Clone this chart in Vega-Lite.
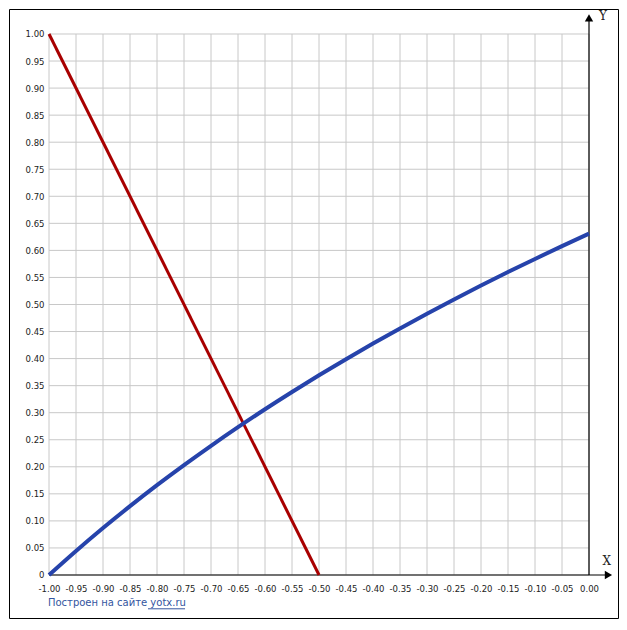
{
  "$schema": "https://vega.github.io/schema/vega-lite/v6.json",
  "width": 609,
  "height": 609,
  "padding": {"left": 9, "top": 9, "right": 9, "bottom": 12},
  "autosize": {"type": "none"},
  "background": "white",
  "config": {
    "view": {"stroke": "black", "strokeWidth": 1},
    "axis": {"labelFont": "DejaVu Sans", "labelFontSize": 8.5, "labelColor": "#222222", "domain": false, "ticks": false, "grid": false, "title": null, "labelOverlap": false, "labelFlush": false, "labelBound": false}
  },
  "datasets": {
    "gx": [{"v": -1.0}, {"v": -0.95}, {"v": -0.9}, {"v": -0.85}, {"v": -0.8}, {"v": -0.75}, {"v": -0.7}, {"v": -0.65}, {"v": -0.6}, {"v": -0.55}, {"v": -0.5}, {"v": -0.45}, {"v": -0.4}, {"v": -0.35}, {"v": -0.3}, {"v": -0.25}, {"v": -0.2}, {"v": -0.15}, {"v": -0.1}, {"v": -0.05}, {"v": 0.0}],
    "gy": [{"v": 0.0}, {"v": 0.05}, {"v": 0.1}, {"v": 0.15}, {"v": 0.2}, {"v": 0.25}, {"v": 0.3}, {"v": 0.35}, {"v": 0.4}, {"v": 0.45}, {"v": 0.5}, {"v": 0.55}, {"v": 0.6}, {"v": 0.65}, {"v": 0.7}, {"v": 0.75}, {"v": 0.8}, {"v": 0.85}, {"v": 0.9}, {"v": 0.95}, {"v": 1.0}],
    "red": [
      {"x": -1.0, "y": 1.0},
      {"x": -0.5, "y": 0.0}
    ],
    "blue": [
      {"x": -1.0, "y": 0.0},
      {"x": -0.95, "y": 0.0444},
      {"x": -0.9, "y": 0.0868},
      {"x": -0.85, "y": 0.1272},
      {"x": -0.8, "y": 0.166},
      {"x": -0.75, "y": 0.2031},
      {"x": -0.7, "y": 0.2388},
      {"x": -0.65, "y": 0.2732},
      {"x": -0.6, "y": 0.3063},
      {"x": -0.55, "y": 0.3382},
      {"x": -0.5, "y": 0.3691},
      {"x": -0.45, "y": 0.3989},
      {"x": -0.4, "y": 0.4278},
      {"x": -0.35, "y": 0.4558},
      {"x": -0.3, "y": 0.483},
      {"x": -0.25, "y": 0.5094},
      {"x": -0.2, "y": 0.535},
      {"x": -0.15, "y": 0.56},
      {"x": -0.1, "y": 0.5842},
      {"x": -0.05, "y": 0.6079},
      {"x": 0.0, "y": 0.6309}
    ],
    "axes": [
      {"x": -1.0, "y": 0.0, "x2": 0.038, "y2": 0.0},
      {"x": 0.0, "y": 0.0, "x2": 0.0, "y2": 1.032}
    ],
    "arrows": [
      {"x": 0.036, "y": 0.0, "s": "triangle-right"},
      {"x": 0.0, "y": 1.03, "s": "triangle-up"}
    ],
    "names": [
      {"x": 0.033, "y": 0.026, "t": "X"},
      {"x": 0.026, "y": 1.033, "t": "Y"}
    ],
    "credit": [{"x": -1.002, "y": -0.052, "t": "Построен на сайте yotx.ru"}],
    "underline": [{"x": -0.8167, "x2": -0.7481, "y": -0.0625}]
  },
  "layer": [
    {
      "data": {"name": "gx"},
      "mark": {"type": "rule", "color": "#c8c8c8", "strokeWidth": 1},
      "encoding": {
        "x": {"field": "v", "type": "quantitative", "scale": {"domain": [-1.0741, 0.0537], "nice": false, "zero": false},
          "axis": {"values": [-1.0, -0.95, -0.9, -0.85, -0.8, -0.75, -0.7, -0.65, -0.6, -0.55, -0.5, -0.45, -0.4, -0.35, -0.3, -0.25, -0.2, -0.15, -0.1, -0.05, 0.0], "offset": -43, "labelPadding": 9, "labelExpr": "replace(replace(format(datum.value, '.2f'), '\u2212', '-'), '-0.00', '0.00')"}},
        "y": {"datum": 0, "type": "quantitative", "scale": {"domain": [-0.0795, 1.0462], "nice": false, "zero": false},
          "axis": {"values": [0.0, 0.05, 0.1, 0.15, 0.2, 0.25, 0.3, 0.35, 0.4, 0.45, 0.5, 0.55, 0.6, 0.65, 0.7, 0.75, 0.8, 0.85, 0.9, 0.95, 1.0], "offset": -40, "labelPadding": 5, "labelExpr": "datum.value == 0 ? '0' : format(datum.value, '.2f')"}},
        "y2": {"datum": 1}
      }
    },
    {
      "data": {"name": "gy"},
      "mark": {"type": "rule", "color": "#c8c8c8", "strokeWidth": 1},
      "encoding": {
        "x": {"datum": -1, "type": "quantitative", "scale": {"domain": [-1.0741, 0.0537], "nice": false, "zero": false},
          "axis": {"values": [-1.0, -0.95, -0.9, -0.85, -0.8, -0.75, -0.7, -0.65, -0.6, -0.55, -0.5, -0.45, -0.4, -0.35, -0.3, -0.25, -0.2, -0.15, -0.1, -0.05, 0.0], "offset": -43, "labelPadding": 9, "labelExpr": "replace(replace(format(datum.value, '.2f'), '\u2212', '-'), '-0.00', '0.00')"}},
        "x2": {"datum": 0},
        "y": {"field": "v", "type": "quantitative", "scale": {"domain": [-0.0795, 1.0462], "nice": false, "zero": false},
          "axis": {"values": [0.0, 0.05, 0.1, 0.15, 0.2, 0.25, 0.3, 0.35, 0.4, 0.45, 0.5, 0.55, 0.6, 0.65, 0.7, 0.75, 0.8, 0.85, 0.9, 0.95, 1.0], "offset": -40, "labelPadding": 5, "labelExpr": "datum.value == 0 ? '0' : format(datum.value, '.2f')"}}
      }
    },
    {
      "data": {"name": "axes"},
      "mark": {"type": "rule", "color": "black", "strokeWidth": 1.2},
      "encoding": {
        "x": {"field": "x", "type": "quantitative", "scale": {"domain": [-1.0741, 0.0537], "nice": false, "zero": false},
          "axis": {"values": [-1.0, -0.95, -0.9, -0.85, -0.8, -0.75, -0.7, -0.65, -0.6, -0.55, -0.5, -0.45, -0.4, -0.35, -0.3, -0.25, -0.2, -0.15, -0.1, -0.05, 0.0], "offset": -43, "labelPadding": 9, "labelExpr": "replace(replace(format(datum.value, '.2f'), '\u2212', '-'), '-0.00', '0.00')"}},
        "x2": {"field": "x2"},
        "y": {"field": "y", "type": "quantitative", "scale": {"domain": [-0.0795, 1.0462], "nice": false, "zero": false},
          "axis": {"values": [0.0, 0.05, 0.1, 0.15, 0.2, 0.25, 0.3, 0.35, 0.4, 0.45, 0.5, 0.55, 0.6, 0.65, 0.7, 0.75, 0.8, 0.85, 0.9, 0.95, 1.0], "offset": -40, "labelPadding": 5, "labelExpr": "datum.value == 0 ? '0' : format(datum.value, '.2f')"}},
        "y2": {"field": "y2"}
      }
    },
    {
      "data": {"name": "arrows"},
      "mark": {"type": "point", "filled": true, "color": "black", "opacity": 1, "size": 70},
      "encoding": {
        "x": {"field": "x", "type": "quantitative", "scale": {"domain": [-1.0741, 0.0537], "nice": false, "zero": false},
          "axis": {"values": [-1.0, -0.95, -0.9, -0.85, -0.8, -0.75, -0.7, -0.65, -0.6, -0.55, -0.5, -0.45, -0.4, -0.35, -0.3, -0.25, -0.2, -0.15, -0.1, -0.05, 0.0], "offset": -43, "labelPadding": 9, "labelExpr": "replace(replace(format(datum.value, '.2f'), '\u2212', '-'), '-0.00', '0.00')"}},
        "y": {"field": "y", "type": "quantitative", "scale": {"domain": [-0.0795, 1.0462], "nice": false, "zero": false},
          "axis": {"values": [0.0, 0.05, 0.1, 0.15, 0.2, 0.25, 0.3, 0.35, 0.4, 0.45, 0.5, 0.55, 0.6, 0.65, 0.7, 0.75, 0.8, 0.85, 0.9, 0.95, 1.0], "offset": -40, "labelPadding": 5, "labelExpr": "datum.value == 0 ? '0' : format(datum.value, '.2f')"}},
        "shape": {"field": "s", "type": "nominal", "scale": {"domain": ["triangle-right", "triangle-up"], "range": ["triangle-right", "triangle-up"]}, "legend": null}
      }
    },
    {
      "data": {"name": "red"},
      "mark": {"type": "line", "strokeWidth": 3, "color": "#a80000"},
      "encoding": {
        "x": {"field": "x", "type": "quantitative", "scale": {"domain": [-1.0741, 0.0537], "nice": false, "zero": false},
          "axis": {"values": [-1.0, -0.95, -0.9, -0.85, -0.8, -0.75, -0.7, -0.65, -0.6, -0.55, -0.5, -0.45, -0.4, -0.35, -0.3, -0.25, -0.2, -0.15, -0.1, -0.05, 0.0], "offset": -43, "labelPadding": 9, "labelExpr": "replace(replace(format(datum.value, '.2f'), '\u2212', '-'), '-0.00', '0.00')"}},
        "y": {"field": "y", "type": "quantitative", "scale": {"domain": [-0.0795, 1.0462], "nice": false, "zero": false},
          "axis": {"values": [0.0, 0.05, 0.1, 0.15, 0.2, 0.25, 0.3, 0.35, 0.4, 0.45, 0.5, 0.55, 0.6, 0.65, 0.7, 0.75, 0.8, 0.85, 0.9, 0.95, 1.0], "offset": -40, "labelPadding": 5, "labelExpr": "datum.value == 0 ? '0' : format(datum.value, '.2f')"}}
      }
    },
    {
      "data": {"name": "blue"},
      "mark": {"type": "line", "strokeWidth": 4, "color": "#2643ab", "interpolate": "monotone"},
      "encoding": {
        "x": {"field": "x", "type": "quantitative", "scale": {"domain": [-1.0741, 0.0537], "nice": false, "zero": false},
          "axis": {"values": [-1.0, -0.95, -0.9, -0.85, -0.8, -0.75, -0.7, -0.65, -0.6, -0.55, -0.5, -0.45, -0.4, -0.35, -0.3, -0.25, -0.2, -0.15, -0.1, -0.05, 0.0], "offset": -43, "labelPadding": 9, "labelExpr": "replace(replace(format(datum.value, '.2f'), '\u2212', '-'), '-0.00', '0.00')"}},
        "y": {"field": "y", "type": "quantitative", "scale": {"domain": [-0.0795, 1.0462], "nice": false, "zero": false},
          "axis": {"values": [0.0, 0.05, 0.1, 0.15, 0.2, 0.25, 0.3, 0.35, 0.4, 0.45, 0.5, 0.55, 0.6, 0.65, 0.7, 0.75, 0.8, 0.85, 0.9, 0.95, 1.0], "offset": -40, "labelPadding": 5, "labelExpr": "datum.value == 0 ? '0' : format(datum.value, '.2f')"}}
      }
    },
    {
      "data": {"name": "names"},
      "mark": {"type": "text", "font": "DejaVu Serif", "fontSize": 12, "color": "#222222", "align": "center", "baseline": "middle"},
      "encoding": {
        "x": {"field": "x", "type": "quantitative", "scale": {"domain": [-1.0741, 0.0537], "nice": false, "zero": false},
          "axis": {"values": [-1.0, -0.95, -0.9, -0.85, -0.8, -0.75, -0.7, -0.65, -0.6, -0.55, -0.5, -0.45, -0.4, -0.35, -0.3, -0.25, -0.2, -0.15, -0.1, -0.05, 0.0], "offset": -43, "labelPadding": 9, "labelExpr": "replace(replace(format(datum.value, '.2f'), '\u2212', '-'), '-0.00', '0.00')"}},
        "y": {"field": "y", "type": "quantitative", "scale": {"domain": [-0.0795, 1.0462], "nice": false, "zero": false},
          "axis": {"values": [0.0, 0.05, 0.1, 0.15, 0.2, 0.25, 0.3, 0.35, 0.4, 0.45, 0.5, 0.55, 0.6, 0.65, 0.7, 0.75, 0.8, 0.85, 0.9, 0.95, 1.0], "offset": -40, "labelPadding": 5, "labelExpr": "datum.value == 0 ? '0' : format(datum.value, '.2f')"}},
        "text": {"field": "t"}
      }
    },
    {
      "data": {"name": "credit"},
      "mark": {"type": "text", "font": "DejaVu Sans", "fontSize": 10, "color": "#3355a0", "align": "left", "baseline": "middle"},
      "encoding": {
        "x": {"field": "x", "type": "quantitative", "scale": {"domain": [-1.0741, 0.0537], "nice": false, "zero": false},
          "axis": {"values": [-1.0, -0.95, -0.9, -0.85, -0.8, -0.75, -0.7, -0.65, -0.6, -0.55, -0.5, -0.45, -0.4, -0.35, -0.3, -0.25, -0.2, -0.15, -0.1, -0.05, 0.0], "offset": -43, "labelPadding": 9, "labelExpr": "replace(replace(format(datum.value, '.2f'), '\u2212', '-'), '-0.00', '0.00')"}},
        "y": {"field": "y", "type": "quantitative", "scale": {"domain": [-0.0795, 1.0462], "nice": false, "zero": false},
          "axis": {"values": [0.0, 0.05, 0.1, 0.15, 0.2, 0.25, 0.3, 0.35, 0.4, 0.45, 0.5, 0.55, 0.6, 0.65, 0.7, 0.75, 0.8, 0.85, 0.9, 0.95, 1.0], "offset": -40, "labelPadding": 5, "labelExpr": "datum.value == 0 ? '0' : format(datum.value, '.2f')"}},
        "text": {"field": "t"}
      }
    },
    {
      "data": {"name": "underline"},
      "mark": {"type": "rule", "color": "#3355a0", "strokeWidth": 1},
      "encoding": {
        "x": {"field": "x", "type": "quantitative", "scale": {"domain": [-1.0741, 0.0537], "nice": false, "zero": false},
          "axis": {"values": [-1.0, -0.95, -0.9, -0.85, -0.8, -0.75, -0.7, -0.65, -0.6, -0.55, -0.5, -0.45, -0.4, -0.35, -0.3, -0.25, -0.2, -0.15, -0.1, -0.05, 0.0], "offset": -43, "labelPadding": 9, "labelExpr": "replace(replace(format(datum.value, '.2f'), '\u2212', '-'), '-0.00', '0.00')"}},
        "x2": {"field": "x2"},
        "y": {"field": "y", "type": "quantitative", "scale": {"domain": [-0.0795, 1.0462], "nice": false, "zero": false},
          "axis": {"values": [0.0, 0.05, 0.1, 0.15, 0.2, 0.25, 0.3, 0.35, 0.4, 0.45, 0.5, 0.55, 0.6, 0.65, 0.7, 0.75, 0.8, 0.85, 0.9, 0.95, 1.0], "offset": -40, "labelPadding": 5, "labelExpr": "datum.value == 0 ? '0' : format(datum.value, '.2f')"}}
      }
    }
  ]
}
